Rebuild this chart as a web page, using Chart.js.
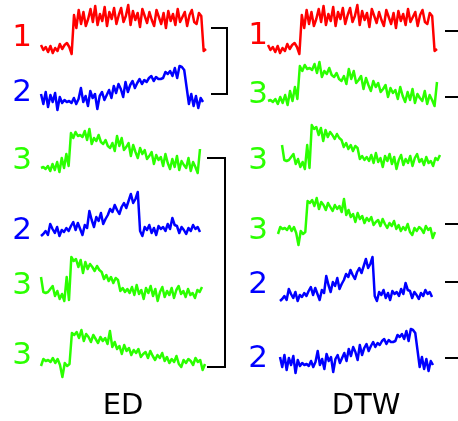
<!DOCTYPE html>
<html>
<head>
<meta charset="utf-8">
<script src="https://cdn.jsdelivr.net/npm/chart.js@4"></script>
<style>
  html, body { margin: 0; padding: 0; background: #fff; }
  #c { display: block; }
</style>
</head>
<body>
<canvas id="c" width="458" height="421"></canvas>
<script>
// class labels of the rows, top to bottom
var edClasses = ['1', '2', '3', '2', '3', '3'];
var dtwClasses = ['1', '3', '3', '3', '2', '2'];
var panelTitles = ['ED', 'DTW'];

// the six series (1 = cylinder, 2 = bell, 3 = funnel)
var cyl1 = [10, 5, 8, 3, 9, 2, 7, 4, 11, 6, 10, 12, 8, 1,
    40, 27, 45, 31, 43, 29, 36, 46, 33, 49, 30, 41, 34, 48, 29, 43, 36, 47, 31, 40,
    47, 33, 39, 50, 30, 44, 35, 42, 28, 46, 39, 32, 43, 35, 29, 45, 38, 31, 42, 27,
    44, 34, 41, 30, 46, 33, 38, 43, 29, 40, 45, 33, 31, 42, 39, 4, 6];
var bell1 = [18, 8, 20, 5, 17, 10, 19, 2, 15, 9, 12, 10, 11, 9, 14, 8, 13, 24, 10, 16,
    6, 21, 14, 18, 3, 16, 20, 12, 17, 22, 14, 26, 19, 28, 23, 15, 30, 20, 27, 31,
    24, 29, 33, 28, 32, 30, 34, 36, 31, 35, 33, 33, 34, 40, 38, 41, 36, 44, 34, 46,
    45, 42, 25, 8, 18, 6, 16, 4, 14, 10];
var fun1 = [8, 9, 7, 10, 5, 12, 6, 14, 4, 18, 8, 22, 10, 43, 38, 44, 40, 41, 39, 45,
    36, 47, 32, 38, 35, 41, 34, 32, 36, 30, 28, 33, 25, 40, 30, 38, 26, 29, 33, 20,
    31, 24, 18, 28, 22, 26, 17, 20, 24, 12, 21, 16, 19, 10, 22, 13, 7, 17, 9, 20,
    6, 15, 11, 8, 18, 5, 14, 9, 3, 27];
var bell2 = [3, 5, 8, 4, 15, 10, 6, 12, 3, 9, 7, 11, 8, 13, 17, 9, 16, 10, 4, 14,
    11, 28, 19, 12, 22, 18, 26, 15, 20, 24, 30, 27, 34, 29, 25, 32, 36, 31, 38, 45,
    36, 40, 47, 8, 3, 12, 9, 14, 6, 11, 4, 13, 10, 12, 8, 15, 10, 21, 14, 13,
    6, 12, 9, 5, 11, 8, 14, 10, 12, 7];
var fun2 = [28, 13, 12, 13, 16, 19, 9, 14, 6, 11, 4, 28, 5, 48, 44, 46, 38, 45, 32, 43,
    36, 41, 38, 34, 39, 35, 33, 26, 30, 24, 28, 22, 27, 25, 14, 17, 13, 16, 12, 18,
    10, 20, 11, 15, 6, 17, 12, 19, 9, 16, 4, 13, 18, 8, 14, 10, 17, 7, 15, 19,
    11, 14, 8, 16, 10, 12, 7, 15, 13, 18];
var fun3 = [13, 20, 18, 19, 17, 21, 16, 20, 14, 2, 16, 13, 15, 46, 44, 47, 41, 49, 38, 45,
    42, 37, 44, 40, 36, 42, 38, 41, 35, 48, 32, 37, 30, 33, 25, 34, 28, 31, 24, 29,
    26, 30, 22, 25, 27, 21, 28, 23, 19, 24, 21, 26, 18, 22, 16, 20, 17, 23, 15, 12,
    19, 16, 20, 18, 14, 21, 17, 19, 9, 15];

var edSeries = [cyl1, bell1, fun1, bell2, fun2, fun3];
var dtwSeries = [cyl1, fun1, fun2, fun3, bell2, bell1];

// layout (pixels): [xStart, xEnd, baseline, labelCenterY]
var edRows = [[41, 206, 55, 35], [41, 203, 112, 90], [41, 200, 176, 158],
              [41, 200, 239, 228], [41, 202, 305, 283], [41, 205, 379, 353]];
var dtwRows = [[268, 437, 55, 33], [268, 437, 109, 92], [282, 440, 173, 158],
               [278, 435, 247, 228], [280, 432, 304, 282], [280, 433, 375, 356]];
var classColors = { '1': '#ff0000', '2': '#0000ff', '3': '#2bff00' };

function makeDataset(vals, row, cls) {
    var step = (row[1] - row[0]) / (vals.length - 1);
    return {
        data: vals.map(function (v, i) { return { x: row[0] + i * step, y: row[2] - v }; }),
        borderColor: classColors[cls],
        borderWidth: 2.5,
        pointRadius: 0,
        tension: 0,
        borderJoinStyle: 'round',
        fill: false
    };
}

var datasets = [];
edSeries.forEach(function (s, i) { datasets.push(makeDataset(s, edRows[i], edClasses[i])); });
dtwSeries.forEach(function (s, i) { datasets.push(makeDataset(s, dtwRows[i], dtwClasses[i])); });

var decor = {
    id: 'decor',
    afterDatasetsDraw: function (chart) {
        var c = chart.ctx, sx = chart.scales.x, sy = chart.scales.y;
        function px(x) { return sx.getPixelForValue(x); }
        function py(y) { return sy.getPixelForValue(y); }
        c.save();
        c.textAlign = 'center';
        c.textBaseline = 'alphabetic';
        c.font = '31px "DejaVu Sans"';
        edClasses.forEach(function (cls, i) {
            c.fillStyle = classColors[cls];
            c.fillText(cls, px(22), py(edRows[i][3] + 11));
        });
        dtwClasses.forEach(function (cls, i) {
            c.fillStyle = classColors[cls];
            c.fillText(cls, px(258), py(dtwRows[i][3] + 11));
        });
        c.fillStyle = '#000';
        c.font = '29px "DejaVu Sans"';
        c.fillText(panelTitles[0], px(123), py(414));
        c.fillText(panelTitles[1], px(366), py(414));

        // ED dendrogram brackets
        c.strokeStyle = '#000';
        c.lineWidth = 2;
        [[211, 227, 28, 94], [207, 225, 158, 367]].forEach(function (b) {
            c.beginPath();
            c.moveTo(px(b[0]), py(b[2]));
            c.lineTo(px(b[1]), py(b[2]));
            c.lineTo(px(b[1]), py(b[3]));
            c.lineTo(px(b[0]), py(b[3]));
            c.stroke();
        });
        // DTW stubs
        [31, 97, 224, 282, 358].forEach(function (y) {
            c.beginPath();
            c.moveTo(px(445), py(y));
            c.lineTo(px(458), py(y));
            c.stroke();
        });
        c.restore();
    }
};

new Chart(document.getElementById('c'), {
    type: 'line',
    data: { datasets: datasets },
    options: {
        responsive: false,
        animation: false,
        devicePixelRatio: 1,
        layout: { padding: 0 },
        plugins: { legend: { display: false }, tooltip: { enabled: false } },
        scales: {
            x: { type: 'linear', min: 0, max: 458, display: false },
            y: { type: 'linear', min: 0, max: 421, reverse: true, display: false }
        }
    },
    plugins: [decor]
});
</script>
</body>
</html>
